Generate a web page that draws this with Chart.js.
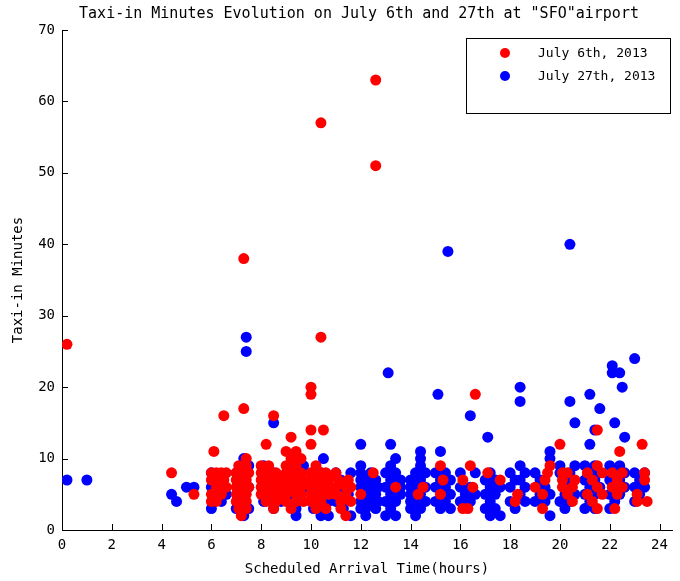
<!DOCTYPE html>
<html>
<head>
<meta charset="utf-8">
<script src="https://cdn.jsdelivr.net/npm/chart.js@4.4.1/dist/chart.umd.min.js"></script>
<style>
  body { margin: 0; background: #fff; }
</style>
</head>
<body>
<canvas id="chart" width="680" height="581"></canvas>
<script>
let chartTitle = 'Taxi-in Minutes Evolution on July 6th and 27th at "SFO"airport';
let xTitle = "Scheduled Arrival Time(hours)";
let yTitle = "Taxi-in Minutes";
let seriesLabels = ["July 6th, 2013", "July 27th, 2013"];
let xTicks = [0, 2, 4, 6, 8, 10, 12, 14, 16, 18, 20, 22, 24];
let yTicks = [0, 10, 20, 30, 40, 50, 60, 70];

// [hour, minutes]
let july6 = [
    [0.2,26],[4.4,8],[5.3,5],[6.1,11],[6.5,16],[7.3,38],[7.3,17],[7.4,10],[8.2,12],[8.5,16],
    [9.2,13],[9.0,11],[9.4,11],[10.0,20],[10.0,19],[10.4,57],[10.4,27],[10.0,14],[10.5,14],[10.0,12],
    [12.6,63],[12.6,51],[16.6,19],[20.0,12],[21.5,14],[22.4,11],[23.3,12],[12.5,8],[12.0,5],[13.4,6],
    [14.3,5],[14.5,6],[15.2,9],[15.3,7],[15.2,5],[16.1,7],[16.1,3],[16.4,9],[17.1,8],[17.6,7],
    [16.5,6],[16.3,3],[18.3,5],[18.2,4],[19.0,6],[19.3,5],[19.3,3],[19.6,9],[19.5,8],[19.4,7],
    [6.0,8],[6.0,7],[6.0,5],[6.0,4],[6.2,8],[6.2,7],[6.2,6],[6.2,4],[6.4,8],[6.4,5],[6.5,7],[6.6,8],[6.6,6],
    [7.0,8],[7.0,7],[7.0,6],[7.0,5],[7.0,4],[7.1,9],[7.1,3],[7.2,8],[7.2,7],[7.2,6],[7.2,5],[7.2,4],[7.2,2],
    [7.4,9],[7.4,8],[7.4,7],[7.4,6],[7.4,5],[7.4,4],[7.4,3],[7.5,8],[7.5,6],
    [8.0,9],[8.0,8],[8.0,7],[8.0,6],[8.0,5],[8.2,8],[8.2,6],[8.2,4],[8.3,9],[8.4,7],[8.4,5],[8.5,3],
    [8.6,8],[8.6,6],[8.6,4],[8.8,7],[8.8,5],
    [9.0,9],[9.0,8],[9.0,7],[9.0,6],[9.0,5],[9.0,4],[9.2,10],[9.2,8],[9.2,6],[9.2,3],[9.4,9],[9.4,7],
    [9.4,5],[9.4,4],[9.6,10],[9.6,8],[9.6,6],[9.6,5],[9.7,7],[9.7,4],
    [10.0,8],[10.0,7],[10.0,6],[10.0,5],[10.0,4],[10.2,9],[10.2,8],[10.2,6],[10.2,5],[10.2,3],
    [10.4,8],[10.4,7],[10.4,5],[10.4,4],[10.6,8],[10.6,6],[10.6,3],[10.7,7],[10.7,5],
    [11.0,8],[11.0,6],[11.0,5],[11.1,7],[11.2,4],[11.2,3],[11.4,6],[11.4,5],[11.4,2],[11.5,7],[11.6,4],[11.6,6],
    [20.1,8],[20.1,7],[20.1,6],[20.3,8],[20.3,5],[20.5,6],[20.5,4],[20.6,7],
    [21.1,8],[21.1,5],[21.3,7],[21.3,4],[21.5,9],[21.5,6],[21.5,3],[21.7,8],[21.7,5],
    [22.1,8],[22.1,6],[22.2,3],[22.3,7],[22.3,5],[22.5,8],[22.5,6],
    [23.1,5],[23.1,4],[23.4,8],[23.4,7],[23.5,4]
];

let july27 = [
    [0.2,7],[1.0,7],[4.4,5],[4.6,4],[5.0,6],[5.3,6],[7.4,27],[7.4,25],[8.5,15],[10.5,10],
    [13.1,22],[12.0,12],[13.2,12],[12.0,9],[14.4,11],[14.4,10],[15.1,19],[15.2,11],[15.5,39],[16.4,16],
    [17.1,13],[18.4,20],[18.4,18],[19.6,11],[19.6,10],[19.6,2],[17.6,2],[20.4,40],[20.4,18],[20.6,15],
    [21.2,19],[21.6,17],[21.4,14],[21.2,12],[22.1,23],[22.1,22],[22.4,22],[22.5,20],[22.2,15],[22.6,13],[23.0,24],
    [6.0,8],[6.0,6],[6.0,3],[6.2,5],[6.4,4],[6.4,6],[6.6,5],
    [7.0,8],[7.0,3],[7.3,10],[7.3,4],[7.3,2],[7.5,9],[7.5,6],[7.5,3],
    [8.1,9],[8.1,6],[8.1,4],[8.5,8],[8.5,3],[8.8,6],[8.8,4],
    [9.1,9],[9.1,5],[9.4,3],[9.4,2],[9.4,8],[9.7,9],[9.7,6],
    [10.1,6],[10.1,3],[10.4,2],[10.4,8],[10.7,4],[10.7,6],[10.7,2],
    [11.0,8],[11.0,4],[11.2,7],[11.3,3],[11.3,6],[11.6,8],[11.6,2],[11.5,5],
    [12.0,8],[12.0,7],[12.0,6],[12.0,4],[12.0,3],[12.2,7],[12.2,6],[12.2,5],[12.2,4],[12.2,3],[12.2,2],
    [12.4,8],[12.4,6],[12.4,5],[12.4,4],[12.6,7],[12.6,5],[12.6,3],[12.7,6],[12.7,4],
    [13.0,8],[13.0,6],[13.0,4],[13.0,2],[13.2,9],[13.2,7],[13.2,5],[13.2,3],[13.4,10],[13.4,8],
    [13.4,4],[13.4,2],[13.6,7],[13.6,5],[13.6,6],
    [14.0,7],[14.0,6],[14.0,5],[14.0,4],[14.0,3],[14.2,8],[14.2,6],[14.2,4],[14.2,2],[14.4,9],
    [14.4,7],[14.4,5],[14.4,3],[14.6,8],[14.6,6],[14.6,4],
    [15.0,8],[15.0,6],[15.0,4],[15.2,7],[15.2,3],[15.4,8],[15.4,6],[15.4,4],[15.6,7],[15.6,5],[15.6,3],
    [16.0,8],[16.0,6],[16.0,4],[16.2,5],[16.4,6],[16.4,4],[16.6,8],[16.6,5],
    [17.0,7],[17.0,5],[17.0,3],[17.2,8],[17.2,6],[17.2,4],[17.2,2],[17.4,7],[17.4,5],[17.4,3],[17.6,6],
    [18.0,8],[18.0,6],[18.0,4],[18.2,7],[18.2,3],[18.4,9],[18.4,7],[18.4,5],[18.6,8],[18.6,6],[18.6,4],
    [19.0,8],[19.0,4],[19.2,7],[19.2,5],[19.4,6],[19.4,4],[19.6,5],
    [20.0,9],[20.0,8],[20.0,4],[20.2,7],[20.2,5],[20.2,3],[20.4,8],[20.4,6],[20.4,4],[20.6,9],[20.6,5],
    [21.0,9],[21.0,7],[21.0,5],[21.0,3],[21.2,8],[21.2,6],[21.2,4],[21.4,9],[21.4,7],[21.4,5],[21.4,3],
    [21.6,8],[21.6,6],
    [22.0,9],[22.0,7],[22.0,5],[22.0,3],[22.2,8],[22.2,6],[22.2,4],[22.4,9],[22.4,7],[22.4,5],[22.6,8],[22.6,6],
    [23.0,8],[23.0,6],[23.0,4],[23.2,7],[23.2,5],[23.4,8],[23.4,6]
];

let seriesColors = ["#ff0000", "#0000ff"];
let fontName = "'DejaVu Sans Mono', monospace";

function toPoints(list) {
    return list.map(p => ({ x: p[0], y: p[1] }));
}

// title, inward ticks and the boxed legend, the way matlab draws them
let extras = {
    id: "extras",
    afterDraw(chart) {
        let ctx = chart.ctx;
        let xs = chart.scales.x, ys = chart.scales.y;
        ctx.save();
        ctx.strokeStyle = "#000";
        ctx.lineWidth = 1;
        ctx.beginPath();
        xTicks.forEach(v => {
            let px = Math.round(xs.getPixelForValue(v)) + 0.5;
            ctx.moveTo(px, ys.bottom);
            ctx.lineTo(px, ys.bottom - 6);
        });
        yTicks.forEach(v => {
            let py = Math.round(ys.getPixelForValue(v)) + 0.5;
            ctx.moveTo(xs.left, py);
            ctx.lineTo(xs.left + 6, py);
        });
        ctx.stroke();

        ctx.fillStyle = "#000";
        ctx.font = "15px " + fontName;
        ctx.textAlign = "center";
        ctx.textBaseline = "middle";
        ctx.fillText(chartTitle, 359, 14);

        // legend
        ctx.fillStyle = "#fff";
        ctx.fillRect(466, 38, 204, 75);
        ctx.strokeRect(466.5, 38.5, 204, 75);
        ctx.font = "13px " + fontName;
        ctx.textAlign = "left";
        seriesLabels.forEach((label, i) => {
            let y = 53 + i * 23;
            ctx.fillStyle = seriesColors[i];
            ctx.beginPath();
            ctx.arc(505, y, 5, 0, Math.PI * 2);
            ctx.fill();
            ctx.fillStyle = "#000";
            ctx.fillText(label, 538, y + 1);
        });
        ctx.restore();
    }
};

new Chart(document.getElementById("chart"), {
    type: "scatter",
    data: {
        datasets: [
            { label: seriesLabels[0], data: toPoints(july6), backgroundColor: seriesColors[0], borderWidth: 0, pointRadius: 5.5 },
            { label: seriesLabels[1], data: toPoints(july27), backgroundColor: seriesColors[1], borderWidth: 0, pointRadius: 5.5 }
        ]
    },
    options: {
        responsive: false,
        animation: false,
        devicePixelRatio: 1,
        layout: { padding: { top: 30, right: 8, left: 0, bottom: 0 } },
        plugins: {
            legend: { display: false },
            tooltip: { enabled: false }
        },
        scales: {
            x: {
                type: "linear",
                min: 0,
                max: 24.5,
                afterBuildTicks: s => { s.ticks = xTicks.map(v => ({ value: v })); },
                afterFit: s => { s.height = 51; },
                grid: { drawOnChartArea: false, drawTicks: false },
                border: { display: true, color: "#000", width: 1 },
                ticks: { color: "#000", padding: 7, maxRotation: 0, font: { family: fontName, size: 14 } },
                title: { display: true, text: xTitle, color: "#000", padding: { top: 0, bottom: 3 }, font: { family: fontName, size: 14 } }
            },
            y: {
                min: 0,
                max: 70,
                afterBuildTicks: s => { s.ticks = yTicks.map(v => ({ value: v })); },
                afterFit: s => { s.width = 62; },
                grid: { drawOnChartArea: false, drawTicks: false },
                border: { display: true, color: "#000", width: 1 },
                ticks: { color: "#000", padding: 7, font: { family: fontName, size: 14 } },
                title: { display: true, text: yTitle, color: "#000", padding: { top: 10, bottom: 0 }, font: { family: fontName, size: 14 } }
            }
        }
    },
    plugins: [extras]
});
</script>
</body>
</html>
